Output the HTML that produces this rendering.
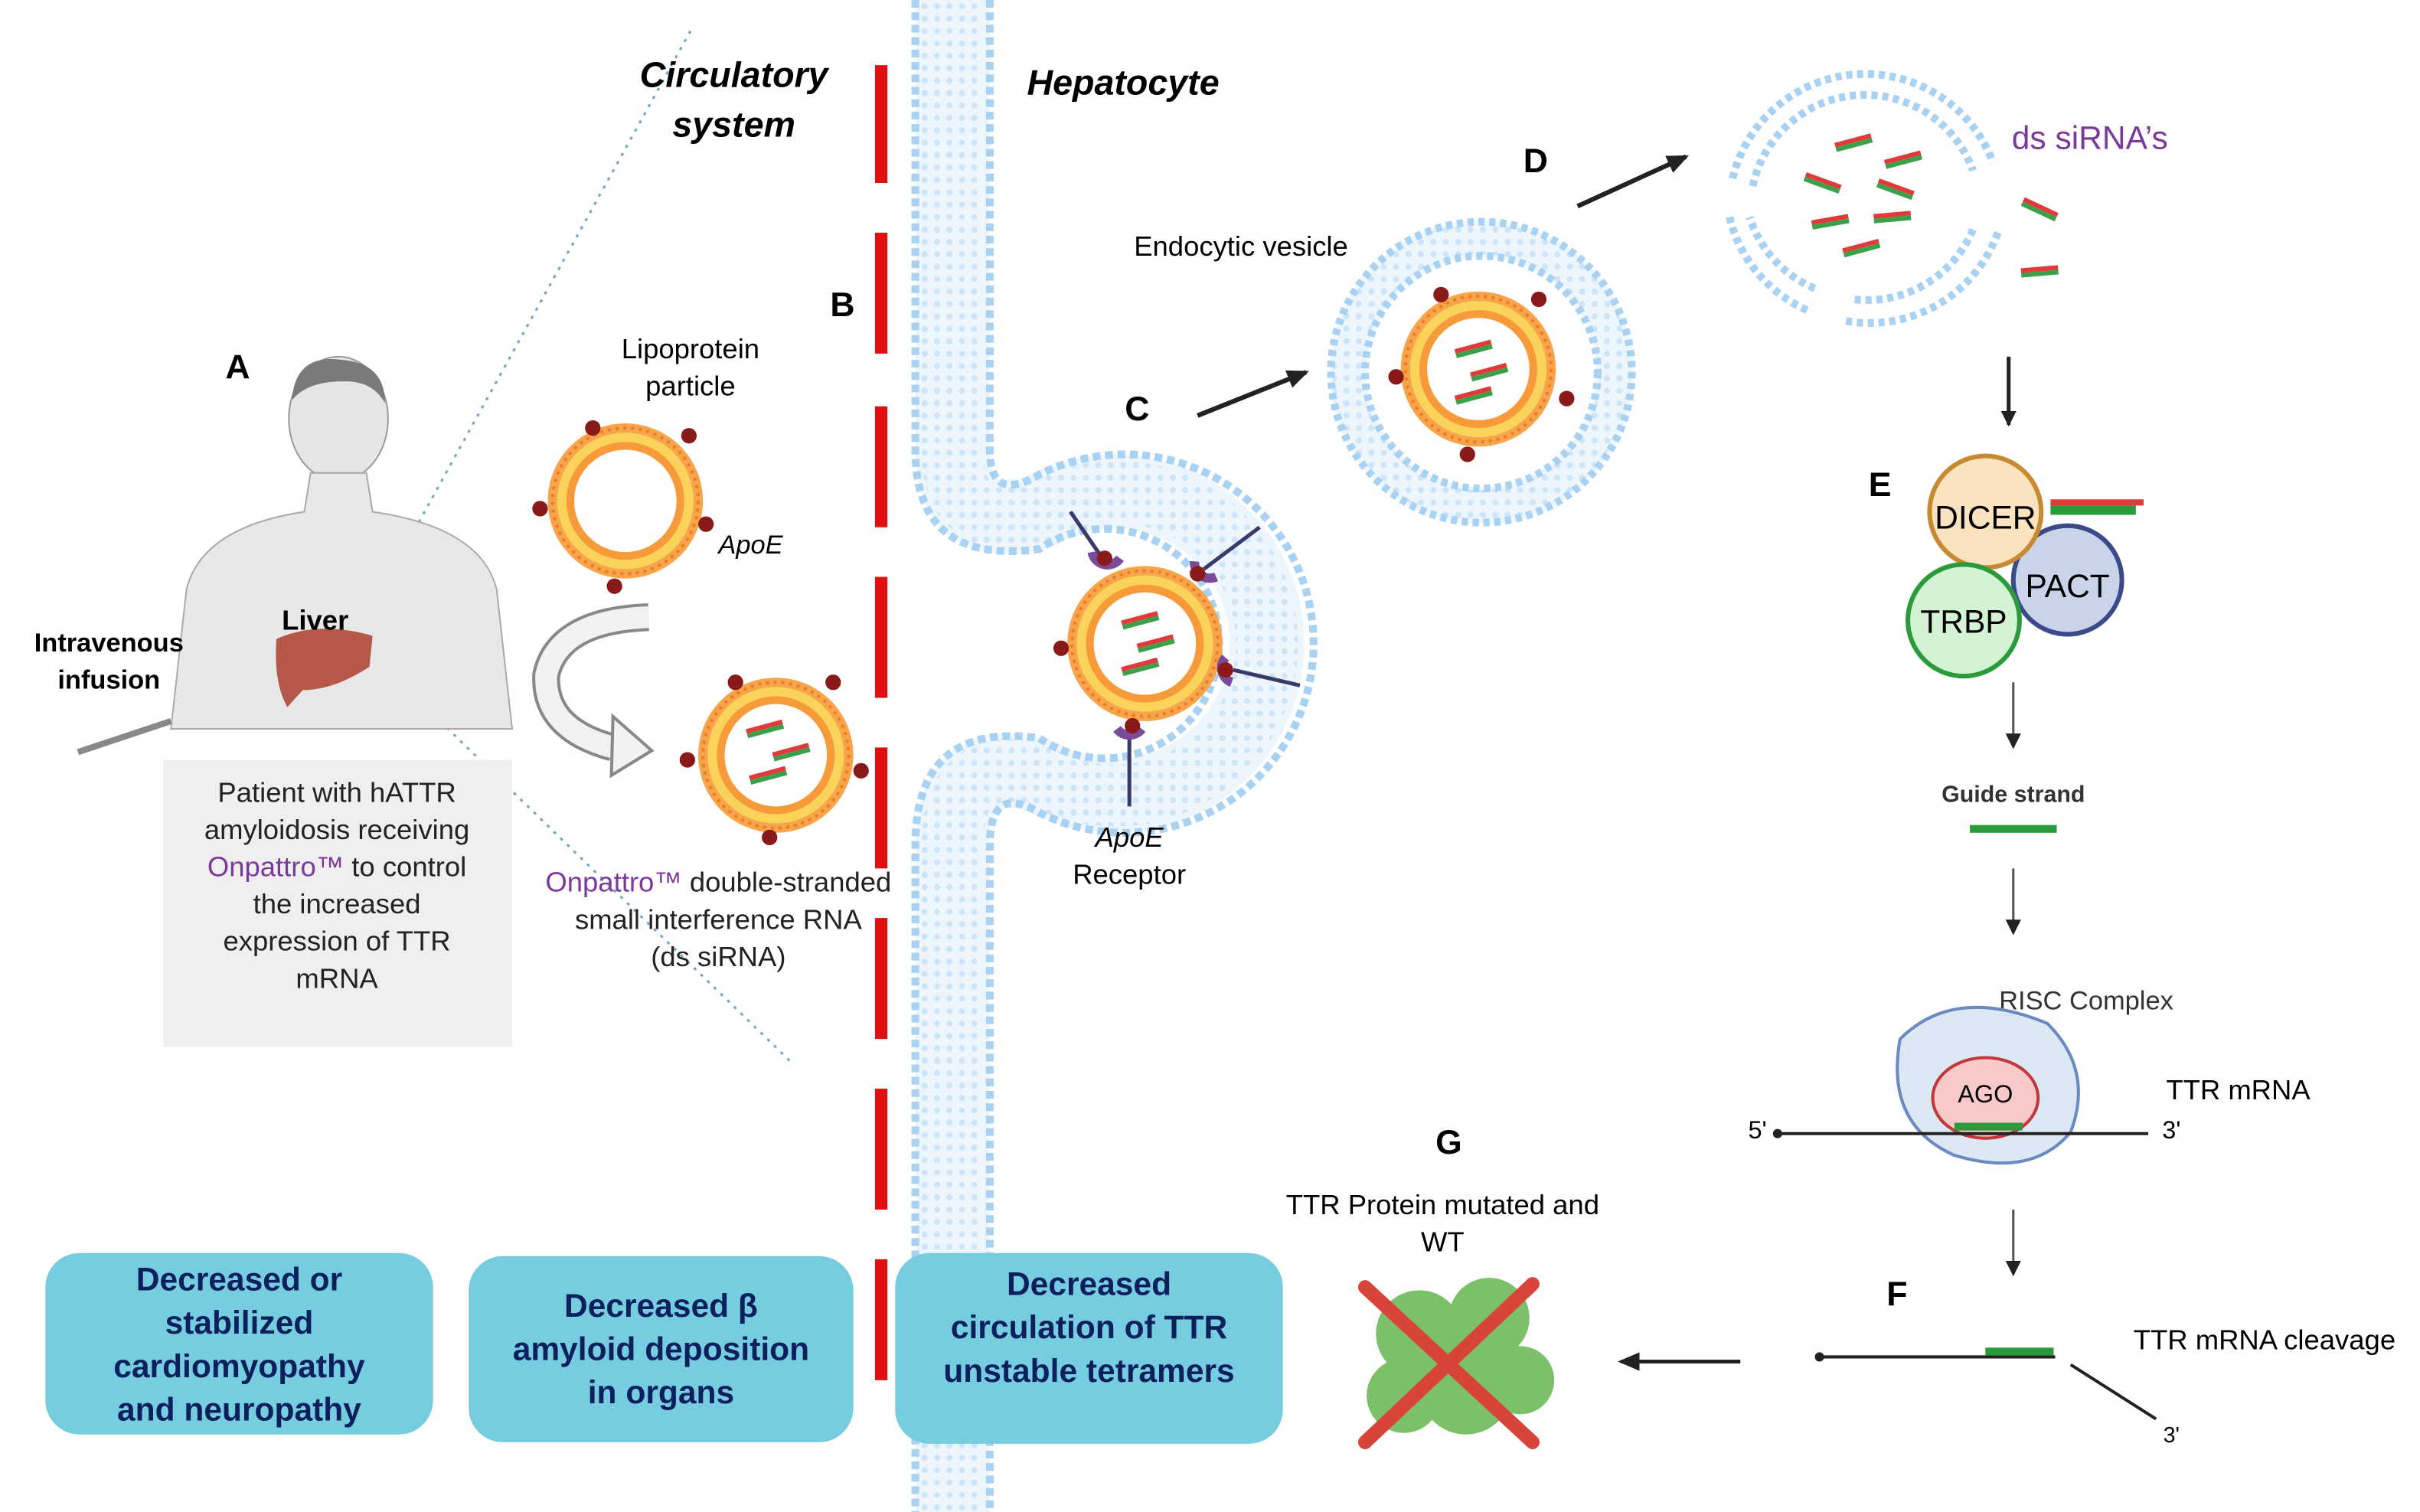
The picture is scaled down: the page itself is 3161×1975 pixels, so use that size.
<!DOCTYPE html>
<html><head><meta charset="utf-8"><style>
html,body{margin:0;padding:0;background:#fff}
svg{display:block}
text{font-family:"Liberation Sans",sans-serif}
</style></head><body>
<svg width="3161" height="1975" viewBox="0 0 1560 975" xmlns="http://www.w3.org/2000/svg">
<defs>
<pattern id="mem" width="8" height="8" patternUnits="userSpaceOnUse"><circle cx="4" cy="4" r="2" fill="#b8daf4"/></pattern>
<g id="lipo">
 <circle r="50" fill="#f7a54a"/><circle r="44" fill="#fbd25a"/><circle r="38" fill="#f79a3a"/><circle r="33" fill="#fff"/>
 <circle r="47" fill="none" stroke="#f07a2a" stroke-width="2" stroke-dasharray="2 3"/>
</g>
<g id="rna"><rect x="-12" y="-3" width="24" height="3" fill="#e03a3a"/><rect x="-12" y="0" width="24" height="3" fill="#3aa04a"/></g>
<marker id="ah" markerUnits="userSpaceOnUse" markerWidth="14" markerHeight="12" refX="12" refY="6" orient="auto"><path d="M0,0 L14,6 L0,12 z" fill="#222"/></marker>
<marker id="ahs" markerUnits="userSpaceOnUse" markerWidth="10" markerHeight="10" refX="9" refY="5" orient="auto"><path d="M0,0 L10,5 L0,10 z" fill="#222"/></marker>
</defs>

<path d="M232,405 L445,20" stroke="#6fa7c9" stroke-width="1.5" stroke-dasharray="2 4" fill="none"/>
<path d="M232,415 L510,685" stroke="#6fa7c9" stroke-width="1.5" stroke-dasharray="2 4" fill="none"/>

<!-- membrane -->
<path d="M614,0 V290 Q614,345 670,330 A98,98 0 1 1 670,500 Q614,485 614,545 V975" fill="none" stroke="#eef6fd" stroke-width="48"/>
<path d="M614,0 V290 Q614,345 670,330 A98,98 0 1 1 670,500 Q614,485 614,545 V975" fill="none" stroke="url(#mem)" stroke-width="40" opacity="0.6"/>
<path d="M590,0 V290 Q590,365 670,354 A74,74 0 1 1 670,476 Q590,465 590,545 V975" fill="none" stroke="#a9d2f2" stroke-width="5" stroke-dasharray="5 3"/>
<path d="M638,0 V290 Q638,325 670,306 A122,122 0 1 1 670,524 Q638,505 638,545 V975" fill="none" stroke="#a9d2f2" stroke-width="5" stroke-dasharray="5 3"/>

<g stroke="#e01010" stroke-width="8">
<line x1="568" y1="42" x2="568" y2="118"/><line x1="568" y1="150" x2="568" y2="228"/>
<line x1="568" y1="262" x2="568" y2="340"/><line x1="568" y1="372" x2="568" y2="450"/>
<line x1="568" y1="482" x2="568" y2="560"/><line x1="568" y1="592" x2="568" y2="670"/>
<line x1="568" y1="702" x2="568" y2="780"/><line x1="568" y1="812" x2="568" y2="890"/>
</g>

<!-- person -->
<ellipse cx="218" cy="270" rx="32" ry="40" fill="#e6e6e6" stroke="#999"/>
<path d="M188,258 Q190,228 220,232 Q248,234 248,260 Q240,245 220,246 Q198,246 188,258z" fill="#7a7a7a"/>
<path d="M200,305 L236,305 L240,330 Q310,340 320,380 L330,470 L110,470 L120,380 Q130,340 196,330z" fill="#e8e8e8" stroke="#aaa"/>
<path d="M178,412 Q205,400 240,410 L238,430 Q215,445 195,445 L185,456 Q176,440 178,412z" fill="#b5584a"/>
<line x1="50" y1="485" x2="110" y2="465" stroke="#888" stroke-width="4"/>
<text x="203" y="406" font-size="18" font-weight="bold" text-anchor="middle">Liver</text>
<text x="70" y="420" font-size="17" font-weight="bold" text-anchor="middle">Intravenous</text>
<text x="70" y="444" font-size="17" font-weight="bold" text-anchor="middle">infusion</text>
<text x="153" y="244" font-size="22" font-weight="bold" text-anchor="middle">A</text>

<rect x="105" y="490" width="225" height="185" fill="#efefef"/>
<g font-size="18" text-anchor="middle" fill="#222">
<text x="217" y="517">Patient with hATTR</text>
<text x="217" y="541">amyloidosis receiving</text>
<text x="217" y="565"><tspan fill="#7b3a9a">Onpattro™</tspan>  to control</text>
<text x="217" y="589">the increased</text>
<text x="217" y="613">expression of TTR</text>
<text x="217" y="637">mRNA</text>
</g>

<text x="473" y="56" font-size="23" font-weight="bold" font-style="italic" text-anchor="middle">Circulatory</text>
<text x="473" y="88" font-size="23" font-weight="bold" font-style="italic" text-anchor="middle">system</text>
<text x="724" y="61" font-size="23" font-weight="bold" font-style="italic" text-anchor="middle">Hepatocyte</text>
<text x="543" y="204" font-size="22" font-weight="bold" text-anchor="middle">B</text>

<text x="445" y="231" font-size="18" text-anchor="middle">Lipoprotein</text>
<text x="445" y="255" font-size="18" text-anchor="middle">particle</text>
<use href="#lipo" x="403" y="323"/>
<g fill="#8a1a1a"><circle cx="382" cy="276" r="5"/><circle cx="444" cy="281" r="5"/><circle cx="348" cy="328" r="5"/><circle cx="455" cy="338" r="5"/><circle cx="396" cy="378" r="5"/></g>
<text x="463" y="357" font-size="17" font-style="italic">ApoE</text>
<path d="M418,398 Q360,400 352,435 Q350,470 395,482" fill="none" stroke="#888" stroke-width="18"/>
<path d="M418,398 Q360,400 352,435 Q350,470 395,482" fill="none" stroke="#f2f2f2" stroke-width="14"/>
<path d="M395,462 L420,484 L394,500 z" fill="#f2f2f2" stroke="#888" stroke-width="2"/>

<use href="#lipo" x="500" y="487"/>
<g fill="#8a1a1a"><circle cx="474" cy="440" r="5"/><circle cx="537" cy="440" r="5"/><circle cx="443" cy="490" r="5"/><circle cx="555" cy="497" r="5"/><circle cx="496" cy="540" r="5"/></g>
<use href="#rna" x="493" y="470" transform="rotate(-15 493 470)"/><use href="#rna" x="510" y="485" transform="rotate(-15 510 485)"/><use href="#rna" x="495" y="500" transform="rotate(-15 495 500)"/>
<g font-size="18" text-anchor="middle" fill="#222">
<text x="463" y="575"><tspan fill="#7b3a9a">Onpattro™</tspan> double-stranded</text>
<text x="463" y="599">small interference RNA</text>
<text x="463" y="623">(ds siRNA)</text>
</g>

<use href="#lipo" x="738" y="415"/>
<use href="#rna" x="735" y="400" transform="rotate(-15 735 400)"/><use href="#rna" x="745" y="415" transform="rotate(-15 745 415)"/><use href="#rna" x="735" y="430" transform="rotate(-15 735 430)"/>
<g stroke="#3a3a6a" stroke-width="2.5"><line x1="712" y1="362" x2="690" y2="330"/><line x1="776" y1="367" x2="812" y2="340"/><line x1="795" y1="432" x2="838" y2="442"/><line x1="728" y1="472" x2="728" y2="520"/></g>
<g fill="none" stroke="#7b4a9a" stroke-width="6"><path d="M704,356 a10,10 0 0 0 18,4"/><path d="M770,362 a10,10 0 0 0 14,10"/><path d="M790,424 a10,10 0 0 0 4,16"/><path d="M720,470 a10,10 0 0 0 16,0"/></g>
<g fill="#8a1a1a"><circle cx="712" cy="360" r="5"/><circle cx="772" cy="370" r="5"/><circle cx="684" cy="418" r="5"/><circle cx="790" cy="432" r="5"/><circle cx="730" cy="468" r="5"/></g>
<text x="728" y="546" font-size="18" font-style="italic" text-anchor="middle">ApoE</text>
<text x="728" y="570" font-size="18" text-anchor="middle">Receptor</text>

<text x="733" y="271" font-size="22" font-weight="bold" text-anchor="middle">C</text>
<line x1="772" y1="268" x2="842" y2="240" stroke="#222" stroke-width="3" marker-end="url(#ah)"/>
<text x="800" y="165" font-size="18" text-anchor="middle">Endocytic vesicle</text>

<circle cx="955" cy="240" r="86" fill="none" stroke="#eef6fd" stroke-width="24"/>
<circle cx="955" cy="240" r="86" fill="none" stroke="url(#mem)" stroke-width="20" opacity="0.6"/>
<circle cx="955" cy="240" r="97" fill="none" stroke="#a9d2f2" stroke-width="5" stroke-dasharray="4 3"/>
<circle cx="955" cy="240" r="75" fill="none" stroke="#a9d2f2" stroke-width="5" stroke-dasharray="4 3"/>
<use href="#lipo" x="953" y="238"/>
<use href="#rna" x="950" y="225" transform="rotate(-15 950 225)"/><use href="#rna" x="960" y="240" transform="rotate(-15 960 240)"/><use href="#rna" x="950" y="255" transform="rotate(-15 950 255)"/>
<g fill="#8a1a1a"><circle cx="929" cy="190" r="5"/><circle cx="992" cy="193" r="5"/><circle cx="900" cy="243" r="5"/><circle cx="1010" cy="257" r="5"/><circle cx="946" cy="293" r="5"/></g>

<text x="990" y="111" font-size="22" font-weight="bold" text-anchor="middle">D</text>
<line x1="1017" y1="133" x2="1087" y2="101" stroke="#222" stroke-width="3" marker-end="url(#ah)"/>

<!-- broken vesicle -->
<g fill="none" stroke="#a9d2f2" stroke-width="5" stroke-dasharray="4 3">
<path d="M1117,115 A88,88 0 0 1 1285,105"/><path d="M1130,120 A74,74 0 0 1 1272,110"/>
<path d="M1288,150 A88,88 0 0 1 1190,207"/><path d="M1272,148 A74,74 0 0 1 1195,193"/>
<path d="M1165,200 A88,88 0 0 1 1115,140"/><path d="M1170,186 A74,74 0 0 1 1128,140"/>
</g>
<g>
<use href="#rna" x="1195" y="92" transform="rotate(-15 1195 92)"/><use href="#rna" x="1227" y="103" transform="rotate(-15 1227 103)"/>
<use href="#rna" x="1175" y="118" transform="rotate(20 1175 118)"/><use href="#rna" x="1222" y="122" transform="rotate(20 1222 122)"/>
<use href="#rna" x="1180" y="143" transform="rotate(-10 1180 143)"/><use href="#rna" x="1220" y="140" transform="rotate(-5 1220 140)"/>
<use href="#rna" x="1200" y="160" transform="rotate(-15 1200 160)"/><use href="#rna" x="1315" y="135" transform="rotate(25 1315 135)"/>
<use href="#rna" x="1315" y="175" transform="rotate(-5 1315 175)"/>
</g>
<text x="1297" y="96" font-size="21" fill="#7b3a9a">ds siRNA’s</text>

<line x1="1295" y1="230" x2="1295" y2="274" stroke="#222" stroke-width="2.5" marker-end="url(#ahs)"/>
<text x="1212" y="320" font-size="22" font-weight="bold" text-anchor="middle">E</text>
<circle cx="1333" cy="374" r="35" fill="#c9d4ea" stroke="#3b4b8a" stroke-width="3"/>
<circle cx="1280" cy="330" r="36" fill="#fbe3c0" stroke="#c78a30" stroke-width="3"/>
<circle cx="1266" cy="400" r="36" fill="#d4f2d4" stroke="#2a9a3a" stroke-width="3"/>
<text x="1280" y="341" font-size="21" text-anchor="middle">DICER</text>
<text x="1333" y="385" font-size="21" text-anchor="middle">PACT</text>
<text x="1266" y="408" font-size="21" text-anchor="middle">TRBP</text>
<rect x="1322" y="322" width="60" height="4" fill="#e03a3a"/><rect x="1322" y="326" width="55" height="6" fill="#2a9a3a"/>

<line x1="1298" y1="440" x2="1298" y2="482" stroke="#555" stroke-width="1.5" marker-end="url(#ahs)"/>
<text x="1298" y="517" font-size="15" font-weight="bold" text-anchor="middle" fill="#333">Guide strand</text>
<rect x="1270" y="532" width="56" height="5" fill="#2a9a3a"/>
<line x1="1298" y1="560" x2="1298" y2="602" stroke="#555" stroke-width="1.5" marker-end="url(#ahs)"/>
<text x="1345" y="651" font-size="17" text-anchor="middle" fill="#333">RISC Complex</text>
<path d="M1225,670 Q1260,635 1320,660 Q1350,690 1335,730 Q1310,760 1260,745 Q1215,725 1225,670z" fill="#dde8f5" stroke="#6a8ac0" stroke-width="2"/>
<ellipse cx="1280" cy="708" rx="34" ry="26" fill="#f9c8c8" stroke="#c03a3a" stroke-width="2"/>
<text x="1280" y="711" font-size="16" text-anchor="middle">AGO</text>
<line x1="1145" y1="731" x2="1385" y2="731" stroke="#222" stroke-width="2"/>
<circle cx="1146" cy="731" r="3" fill="#222"/>
<rect x="1260" y="724" width="44" height="5" fill="#2a9a3a"/>
<text x="1133" y="734" font-size="16" text-anchor="middle">5'</text>
<text x="1400" y="734" font-size="16" text-anchor="middle">3'</text>
<text x="1443" y="709" font-size="18" text-anchor="middle">TTR mRNA</text>
<line x1="1298" y1="780" x2="1298" y2="822" stroke="#555" stroke-width="1.5" marker-end="url(#ahs)"/>

<text x="1223" y="842" font-size="22" font-weight="bold" text-anchor="middle">F</text>
<line x1="1172" y1="875" x2="1325" y2="875" stroke="#222" stroke-width="2"/><circle cx="1173" cy="875" r="3" fill="#222"/>
<rect x="1280" y="869" width="44" height="5" fill="#2a9a3a"/>
<line x1="1335" y1="880" x2="1390" y2="915" stroke="#222" stroke-width="2"/>
<text x="1400" y="930" font-size="14" text-anchor="middle">3'</text>
<text x="1460" y="870" font-size="18" text-anchor="middle">TTR mRNA cleavage</text>
<line x1="1122" y1="878" x2="1045" y2="878" stroke="#222" stroke-width="2.5" marker-end="url(#ah)"/>

<text x="934" y="744" font-size="22" font-weight="bold" text-anchor="middle">G</text>
<text x="930" y="783" font-size="18" text-anchor="middle">TTR Protein mutated and</text>
<text x="930" y="807" font-size="18" text-anchor="middle">WT</text>
<g fill="#7cc06a"><circle cx="915" cy="860" r="28"/><circle cx="960" cy="850" r="26"/><circle cx="945" cy="895" r="30"/><circle cx="905" cy="900" r="24"/><circle cx="980" cy="890" r="22"/></g>
<g stroke="#d9443a" stroke-width="9" stroke-linecap="round"><line x1="880" y1="830" x2="988" y2="930"/><line x1="988" y1="828" x2="880" y2="930"/></g>

<rect x="29" y="808" width="250" height="117" rx="22" fill="#76cde0"/>
<rect x="302" y="810" width="248" height="120" rx="22" fill="#76cde0"/>
<rect x="577" y="808" width="250" height="123" rx="22" fill="#76cde0"/>
<g font-size="21" font-weight="bold" fill="#0d1f5c" text-anchor="middle">
<text x="154" y="832">Decreased or</text><text x="154" y="860">stabilized</text><text x="154" y="888">cardiomyopathy</text><text x="154" y="916">and neuropathy</text>
<text x="426" y="849">Decreased β</text><text x="426" y="877">amyloid deposition</text><text x="426" y="905">in organs</text>
<text x="702" y="835">Decreased</text><text x="702" y="863">circulation of TTR</text><text x="702" y="891">unstable tetramers</text>
</g>
</svg>
</body></html>
